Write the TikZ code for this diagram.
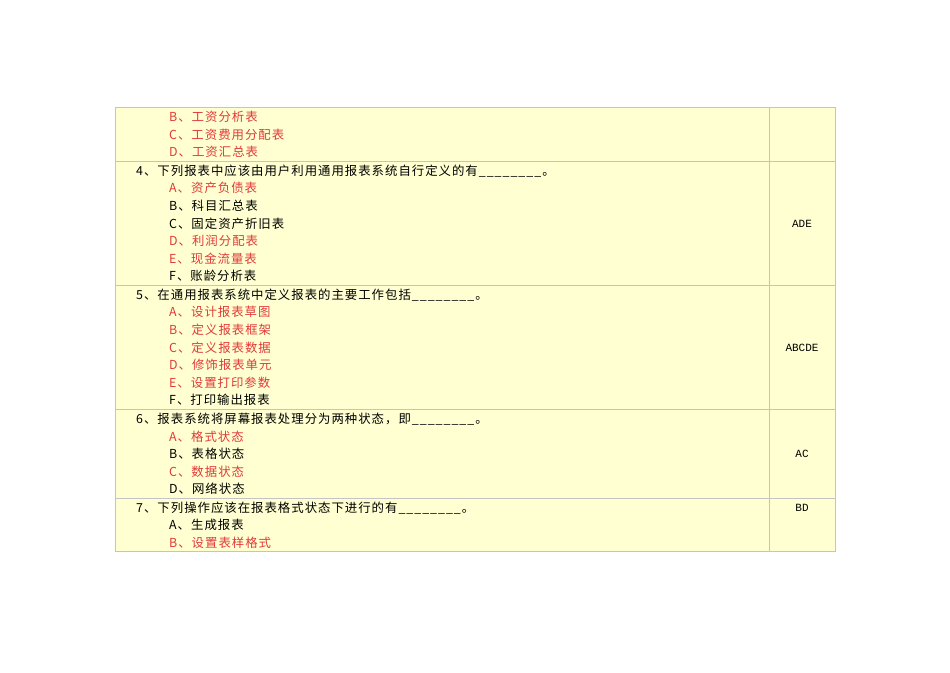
\documentclass[tikz,border=0pt]{standalone}
\usepackage{fontspec}
\setmainfont{Noto Sans CJK SC}
\newfontfamily\monof{Liberation Mono}
\definecolor{bg}{HTML}{FFFFD2}
\definecolor{bd}{HTML}{C4C4C4}
\definecolor{rd}{HTML}{E03A3A}
\begin{document}
\begin{tikzpicture}[x=1pt,y=-1pt,
  t/.style={anchor=west,inner sep=0pt,font=\fontsize{12.4}{12}\selectfont\addfontfeatures{LetterSpace=8}},
  r/.style={t,text=rd},
  ans/.style={anchor=center,inner sep=0pt,font=\monof\fontsize{11}{11}\selectfont}]
\useasboundingbox (0,0) rectangle (950,672);
\fill[bg] (115,107) rectangle (835,551);
\draw[bd] (115,107) rectangle (835,551);
\draw[bd] (769,107) -- (769,551);
\foreach \y in {161,285,409,498} \draw[bd] (115,\y) -- (835,\y);
% row 1
\node[r] (a1) at (169,117) {B、工资分析表};
\node[r] (a2) at (169,135) {C、工资费用分配表};
\node[r] (a3) at (169,152) {D、工资汇总表};
% row 2
\node[t] (q4) at (136,171) {4、下列报表中应该由用户利用通用报表系统自行定义的有\_\_\_\_\_\_\_\_。};
\node[r] (b1) at (169,188) {A、资产负债表};
\node[t] (b2) at (169,206) {B、科目汇总表};
\node[t] (b3) at (169,224) {C、固定资产折旧表};
\node[r] (b4) at (169,241) {D、利润分配表};
\node[r] (b5) at (169,259) {E、现金流量表};
\node[t] (b6) at (169,276) {F、账龄分析表};
\node[ans] (ans4) at (802,224) {ADE};
% row 3
\node[t] (q5) at (136,295) {5、在通用报表系统中定义报表的主要工作包括\_\_\_\_\_\_\_\_。};
\node[r] (c1) at (169,312) {A、设计报表草图};
\node[r] (c2) at (169,330) {B、定义报表框架};
\node[r] (c3) at (169,348) {C、定义报表数据};
\node[r] (c4) at (169,365) {D、修饰报表单元};
\node[r] (c5) at (169,383) {E、设置打印参数};
\node[t] (c6) at (169,400) {F、打印输出报表};
\node[ans] (ans5) at (802,348) {ABCDE};
% row 4
\node[t] (q6) at (136,419) {6、报表系统将屏幕报表处理分为两种状态，即\_\_\_\_\_\_\_\_。};
\node[r] (d1) at (169,437) {A、格式状态};
\node[t] (d2) at (169,454) {B、表格状态};
\node[r] (d3) at (169,472) {C、数据状态};
\node[t] (d4) at (169,489) {D、网络状态};
\node[ans] (ans6) at (802,454) {AC};
% row 5
\node[t] (q7) at (136,508) {7、下列操作应该在报表格式状态下进行的有\_\_\_\_\_\_\_\_。};
\node[t] (e1) at (169,525) {A、生成报表};
\node[r] (e2) at (169,543) {B、设置表样格式};
\node[ans] (ans7) at (802,508) {BD};
\end{tikzpicture}
\end{document}
